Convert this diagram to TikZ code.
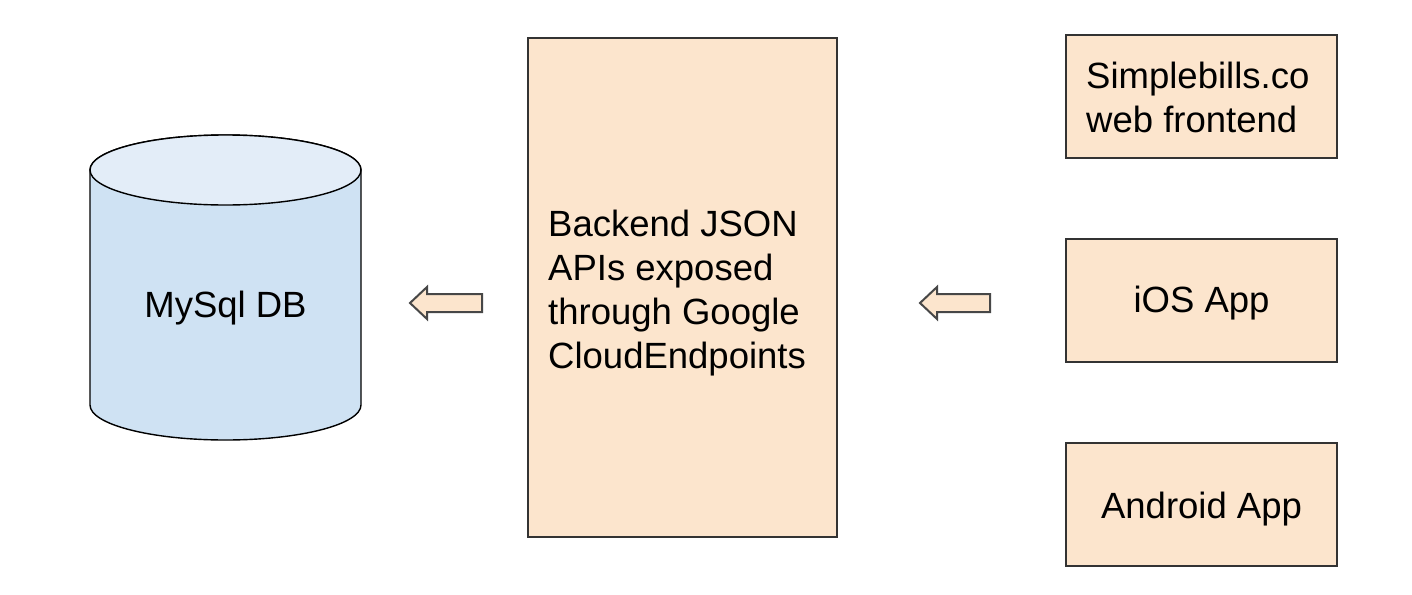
\documentclass[tikz,border=0pt]{standalone}
\usepackage{fontspec}
\setmainfont{Liberation Sans}
\definecolor{peach}{HTML}{FCE5CD}
\definecolor{dbbody}{HTML}{CFE2F3}
\definecolor{dbtop}{HTML}{E3EDF8}
\definecolor{edge}{HTML}{333333}
\begin{document}
\begin{tikzpicture}[x=1pt,y=-1pt,
  box/.style={draw=edge,fill=peach,line width=1.4pt},
  lbl/.style={font=\fontsize{36.5}{44}\selectfont,inner sep=0pt,align=left},
  blockarrow/.style={draw=edge!90,fill=peach,line width=2pt,line join=miter}]
\useasboundingbox[fill=white] (0,0) rectangle (1412,594);
% database cylinder
\path[draw=black,fill=dbbody,line width=1.4pt]
  (90,170) -- (90,405) arc[start angle=180,end angle=0,x radius=135.5,y radius=35]
  -- (361,170) arc[start angle=0,end angle=-180,x radius=135.5,y radius=35] -- cycle;
\path[draw=black,fill=dbtop,line width=1.4pt] (225.5,170) ellipse[x radius=135.5,y radius=35];
\node[lbl] (db) at (225.5,308) {MySql DB};
% backend
\node[box,minimum width=309pt,minimum height=499pt,inner sep=0pt] (backend) at (682.5,287.5) {};
\node[lbl,anchor=west] (backendtext) at (548,293) {Backend JSON\\APIs exposed\\through Google\\CloudEndpoints};
% clients
\node[box,minimum width=271pt,minimum height=123pt,inner sep=0pt] (web) at (1201.5,96.5) {};
\node[lbl,anchor=west] (webtext) at (1086,97) {Simplebills.co\\web frontend};
\node[box,minimum width=271pt,minimum height=123pt,inner sep=0pt] (ios) at (1201.5,300.5) {};
\node[lbl] (iostext) at (1201.5,303) {iOS App};
\node[box,minimum width=271pt,minimum height=123pt,inner sep=0pt] (android) at (1201.5,504.5) {};
\node[lbl] (androidtext) at (1201.5,509) {Android App};
% block arrows
\coordinate (a1) at (410,303);
\coordinate (a2) at (920,303);
\draw[blockarrow] (a1) -- ++(17,-16) -- ++(0,7) -- ++(55,0) -- ++(0,18) -- ++(-55,0) -- ++(0,7) -- cycle;
\draw[blockarrow] (a2) -- ++(17,-16) -- ++(0,7) -- ++(53,0) -- ++(0,18) -- ++(-53,0) -- ++(0,7) -- cycle;
\end{tikzpicture}
\end{document}
